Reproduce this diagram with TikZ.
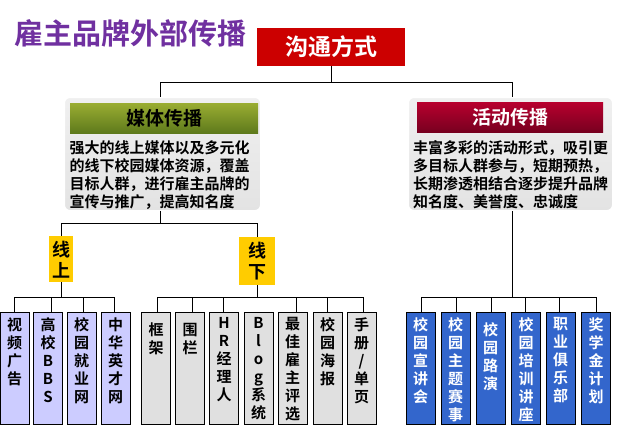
\documentclass[tikz,border=0pt]{standalone}
\usepackage{fontspec}
\setmainfont{Noto Sans CJK SC}[BoldFont={Noto Sans CJK SC Bold}]
\definecolor{titlepurple}{HTML}{7030A0}
\definecolor{topred}{HTML}{CC0000}
\definecolor{greentop}{HTML}{9AAD32}
\definecolor{greenbot}{HTML}{5E7A1C}
\definecolor{redtop}{HTML}{B8002E}
\definecolor{redbot}{HTML}{780020}
\definecolor{lav}{HTML}{CCCCFF}
\definecolor{lgray}{HTML}{E0E0E0}
\definecolor{blu}{HTML}{3366CC}
\definecolor{gold}{HTML}{FFCC00}
\tikzset{
  panel/.style={draw=white, line width=2pt, rounded corners=6pt, top color=gray!12, bottom color=gray!22},
  head/.style={minimum width=188pt, minimum height=30pt, font=\bfseries\fontsize{19}{19}\selectfont},
  item/.style={draw, line width=0.8pt, minimum width=29pt, minimum height=112pt, anchor=north},
  itemtext/.style={anchor=north, align=center, font=\bfseries\fontsize{15}{18}\selectfont},
  tag/.style={fill=gold, anchor=north, align=center, font=\bfseries\fontsize{18}{21}\selectfont},
  link/.style={line width=0.8pt}
}
\begin{document}
\begin{tikzpicture}[x=1pt, y=-1pt]
  \useasboundingbox (0,0) rectangle (624,431);
  % title and root
  \node[text=titlepurple, font=\bfseries\fontsize{29}{29}\selectfont] (title) at (130,33) {雇主品牌外部传播};
  \node[fill=topred, text=white, minimum width=148pt, minimum height=38pt, font=\bfseries\fontsize{23}{23}\selectfont] (root) at (331,47) {沟通方式};
  % two panels
  \node[panel, minimum width=197pt, minimum height=114pt] (media) at (162.5,154) {};
  \node[panel, minimum width=205pt, minimum height=114pt] (event) at (510.5,154) {};
  \node[head, top color=greentop, bottom color=greenbot, text=black] (mediahead) at (164,118) {媒体传播};
  \node[head, minimum width=186pt, top color=redtop, bottom color=redbot, text=white] (eventhead) at (510,117) {活动传播};
  \node[anchor=north west, align=left, font=\bfseries\fontsize{15}{18}\selectfont] (mediatext) at (66,137)
    {强大的线上媒体以及多元化\\的线下校园媒体资源，覆盖\\目标人群，进行雇主品牌的\\宣传与推广，提高知名度};
  \node[anchor=north west, align=left, inner sep=0pt, font=\bfseries\fontsize{15}{18}\selectfont] (eventtext) at (413,140)
    {丰富多彩的活动形式，吸引更\\多目标人群参与，短期预热，\\长期渗透相结合逐步提升品牌\\知名度、美誉度、忠诚度};
  \draw[link] (root.south) -- (331,82) -| (160,97);
  \draw[link] (331,82) -| (512,97);
  % online / offline
  \node[tag, minimum width=24pt, minimum height=46pt, inner sep=1pt] (online) at (61,236) {线\\上};
  \node[tag, minimum width=36pt, minimum height=48pt, inner sep=1pt] (offline) at (257,237) {线\\下};
  \draw[link] (160,211) -- (160,223) -| (online.north);
  \draw[link] (160,223) -| (offline.north);
  % online items
  \foreach \x/\t/\n in {14.5/{视\\频\\广\\告}/a, 48/{高\\校\\B\\B\\S}/b, 81.5/{校\\园\\就\\业\\网}/c, 115.5/{中\\华\\英\\才\\网}/d}{
    \node[item, fill=lav] (on\n) at (\x,312) {};
    \node[itemtext] at (\x,314) {\t};
  }
  \draw[link] (online.south) -- (61,297);
  \draw[link] (14,297) -- (114,297);
  \foreach \x in {14,51,83,114} \draw[link] (\x,297) -- (\x,312);
  % offline items
  \foreach \x/\t/\n in {156/{\mbox{}\\框\\架}/a, 190/{\mbox{}\\围\\栏}/b, 224/{H\\R\\经\\理\\人}/c, 258.5/{B\\l\\o\\g\\系\\统}/d, 292.5/{最\\佳\\雇\\主\\评\\选}/e, 327.5/{校\\园\\海\\报}/f, 361.5/{手\\册\\/\\单\\页}/g}{
    \node[item, fill=lgray] (off\n) at (\x,312) {};
    \node[itemtext] at (\x,314) {\t};
  }
  \draw[link] (offline.south) -- (257,297);
  \draw[link] (157,297) -- (363,297);
  \foreach \x in {157,192,223,296,327,363} \draw[link] (\x,297) -- (\x,312);
  % event items
  \foreach \x/\t/\n in {420.5/{校\\园\\宣\\讲\\会}/a, 455.5/{校\\园\\主\\题\\赛\\事}/b, 490.5/{\mbox{}\\校\\园\\路\\演}/c, 526/{校\\园\\培\\训\\讲\\座}/d, 560.5/{职\\业\\俱\\乐\\部}/e, 596/{奖\\学\\金\\计\\划}/f}{
    \node[item, fill=blu] (ev\n) at (\x,312) {};
    \node[itemtext, text=white] at (\x,314) {\t};
  }
  \draw[link] (512,211) -- (512,297);
  \draw[link] (421,297) -- (596,297);
  \foreach \x in {421,456,491,525,559,596} \draw[link] (\x,297) -- (\x,312);
\end{tikzpicture}
\end{document}
